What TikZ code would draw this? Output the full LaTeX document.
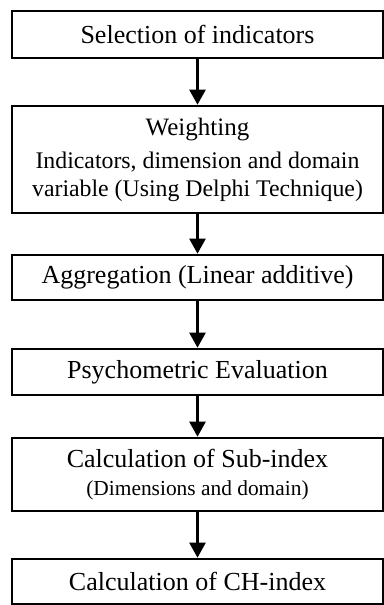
\documentclass[tikz,border=0pt]{standalone}
\usepackage{fontspec}
\setmainfont{Liberation Serif}
\usetikzlibrary{arrows.meta}
\newcommand\subsize{\fontsize{11.9}{11}\selectfont}
\newcommand\smallsize{\fontsize{10.7}{11}\selectfont}

\begin{document}
\begin{tikzpicture}[x=0.5pt,y=-0.5pt,
    box/.style={draw, line width=1.3pt, minimum width=185.5pt, inner sep=0pt,
        align=center, font=\fontsize{13}{14}\selectfont},
    flow/.style={-{Triangle[width=8pt,length=7.5pt]}, line width=1.2pt}]
    \useasboundingbox (0,0) rectangle (384,605);

    \node[box, minimum height=23.5pt] (select) at (197.5,34.5) {Selection of indicators};
    \node[box, minimum height=53.5pt] (weight) at (197.5,159.5)
        {\fontsize{12.5}{14}\selectfont Weighting\\[2.5pt]
         \subsize Indicators, dimension and domain\\
         \subsize variable (Using Delphi Technique)};
    \node[box, minimum height=22.5pt] (aggr) at (197.5,277.5) {Aggregation (Linear additive)};
    \node[box, minimum height=23pt] (psych) at (197.5,372) {Psychometric Evaluation};
    \node[box, minimum height=36.5pt] (subidx) at (197.5,474.5)
        {Calculation of Sub-index\\ \smallsize (Dimensions and domain)};
    \node[box, minimum height=22.5pt] (chidx) at (197.5,581.5) {Calculation of CH-index};

    \draw[flow] (select) -- (weight);
    \draw[flow] (weight) -- (aggr);
    \draw[flow] (aggr) -- (psych);
    \draw[flow] (psych) -- (subidx);
    \draw[flow] (subidx) -- (chidx);

\end{tikzpicture}
\end{document}
